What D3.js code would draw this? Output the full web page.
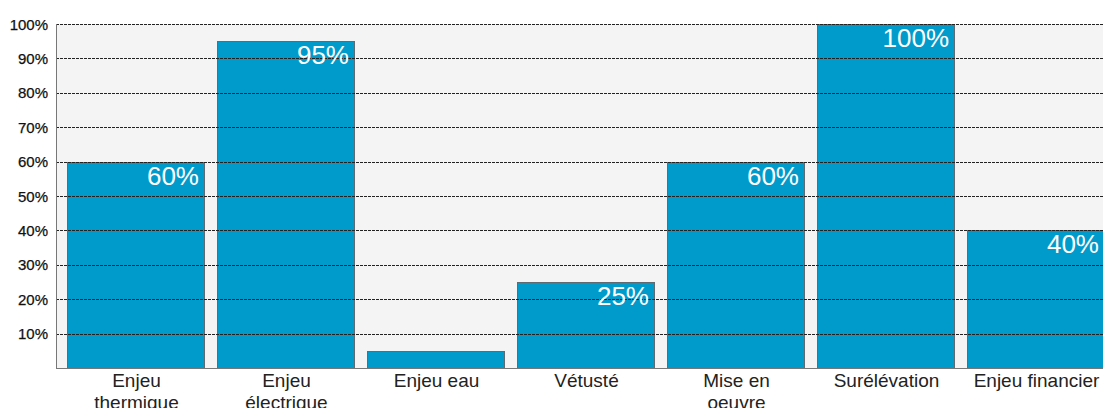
<!DOCTYPE html>
<html>
<head>
<meta charset="utf-8">
<script src="https://cdn.jsdelivr.net/npm/d3@7"></script>
<style>
  body { margin: 0; background: #fff; }
  svg { display: block; font-family: "Liberation Sans", Arial, sans-serif; }
</style>
</head>
<body>
<script>
var categories = [["Enjeu", "thermique"], ["Enjeu", "électrique"], ["Enjeu eau"], ["Vétusté"],
                  ["Mise en", "oeuvre"], ["Surélévation"], ["Enjeu financier"]];
var values = [60, 95, 5, 25, 60, 100, 40];
var yTicks = [10, 20, 30, 40, 50, 60, 70, 80, 90, 100];

var width = 1103, height = 408;
var plotLeft = 56, plotTop = 24, plotBottom = 368;

var svg = d3.select("body").append("svg")
            .attr("width", width)
            .attr("height", height);

var x = d3.scaleBand()
          .domain(d3.range(categories.length))
          .range([plotLeft, 1117])
          .paddingInner(13 / 150)
          .paddingOuter(0.08);

var y = d3.scaleLinear().domain([0, 100]).range([plotBottom, plotTop]);

// plot background
svg.append("rect")
   .attr("x", plotLeft).attr("y", plotTop)
   .attr("width", width - plotLeft).attr("height", plotBottom - plotTop)
   .attr("fill", "#f4f4f4");

// bars
svg.selectAll(".bar")
   .data(values)
   .enter()
   .append("rect")
   .attr("class", "bar")
   .attr("x", (d, i) => Math.round(x(i)) - 0.5)
   .attr("y", d => Math.round(y(d)) + 0.5)
   .attr("width", Math.round(x.bandwidth()))
   .attr("height", d => plotBottom - Math.round(y(d)))
   .attr("fill", "#009bcb")
   .attr("stroke", "#5f6b70")
   .attr("stroke-width", 1);

// gridlines (drawn over the bars)
svg.selectAll(".grid")
   .data(yTicks)
   .enter()
   .append("line")
   .attr("x1", plotLeft).attr("x2", width)
   .attr("y1", d => Math.round(y(d)) + 0.5)
   .attr("y2", d => Math.round(y(d)) + 0.5)
   .attr("stroke", "#222")
   .attr("stroke-width", 1)
   .attr("stroke-dasharray", "3,1");

// axes lines
svg.append("line")
   .attr("x1", plotLeft + 0.5).attr("x2", plotLeft + 0.5)
   .attr("y1", plotTop).attr("y2", plotBottom)
   .attr("stroke", "#777");
svg.append("line")
   .attr("x1", plotLeft).attr("x2", width)
   .attr("y1", plotBottom + 0.5).attr("y2", plotBottom + 0.5)
   .attr("stroke", "#777");

// y tick labels
svg.selectAll(".ytick")
   .data(yTicks)
   .enter()
   .append("text")
   .attr("x", 48)
   .attr("y", d => y(d) + 5.5)
   .attr("text-anchor", "end")
   .attr("font-size", 15)
   .attr("fill", "#111")
   .attr("stroke", "#111")
   .attr("stroke-width", 0.25)
   .text(d => d + "%");

// value labels
svg.selectAll(".val")
   .data(values.map((v, i) => ({v: v, i: i})).filter(d => d.v >= 20))
   .enter()
   .append("text")
   .attr("x", d => x(d.i) + x.bandwidth() - 6)
   .attr("y", d => y(d.v) + 23)
   .attr("text-anchor", "end")
   .attr("font-size", 26)
   .attr("fill", "#ffffff")
   .text(d => d.v + "%");

// category labels
var cat = svg.selectAll(".cat")
             .data(categories)
             .enter()
             .append("text")
             .attr("text-anchor", "middle")
             .attr("font-size", 19)
             .attr("fill", "#222");

cat.selectAll("tspan")
   .data((d, i) => d.map(s => ({s: s, i: i})))
   .enter()
   .append("tspan")
   .attr("x", d => x(d.i) + x.bandwidth() / 2)
   .attr("y", (d, j) => 387 + j * 22)
   .text(d => d.s);
</script>
</body>
</html>
